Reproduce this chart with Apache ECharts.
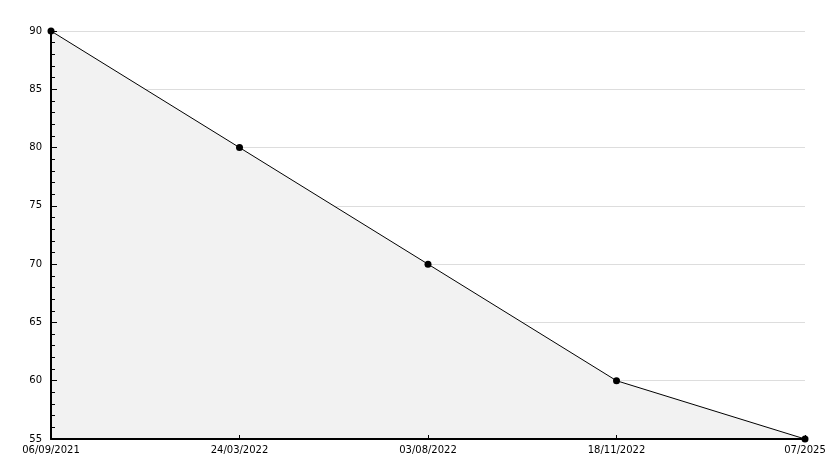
<!DOCTYPE html>
<html><head><meta charset="utf-8">
<script src="https://cdn.jsdelivr.net/npm/echarts@6/dist/echarts.min.js"></script>
<style>html,body{margin:0;padding:0;background:#fff}#c{width:834px;height:468px}</style>
</head><body><div id="c"></div>
<script>
const categories = ['06/09/2021', '24/03/2022', '03/08/2022', '18/11/2022', '07/2025'];
const values = [90, 80, 70, 60, 55];
const yMin = 55, yMax = 90, yStep = 5;

const chart = echarts.init(document.getElementById('c'), null, {renderer: 'canvas'});
chart.setOption({
  animation: false,
  backgroundColor: '#ffffff',
  grid: {left: 51, right: 29, top: 31, bottom: 29, containLabel: false},
  xAxis: [{
    type: 'category', data: categories, boundaryGap: false, z: 5,
    axisLine: {lineStyle: {color: '#000', width: 2}},
    axisTick: {inside: true, length: 4, lineStyle: {color: '#000'}, alignWithLabel: true},
    axisLabel: {color: '#000', fontFamily: 'DejaVu Sans', fontSize: 10, margin: 6, interval: 0},
    splitLine: {show: false}
  }],
  yAxis: [{
    type: 'value', min: yMin, max: yMax, interval: yStep, z: 0,
    axisLine: {show: false}, axisTick: {show: false}, axisLabel: {show: false},
    splitLine: {show: true, lineStyle: {color: '#dddddd', width: 1}}
  }, {
    type: 'value', min: yMin, max: yMax, interval: yStep, z: 5, position: 'left',
    axisLine: {show: true, lineStyle: {color: '#000', width: 2}},
    axisTick: {show: true, inside: true, length: 6, lineStyle: {color: '#000', width: 1}},
    minorTick: {show: true, splitNumber: 5, length: 4, lineStyle: {color: '#000', width: 1}},
    axisLabel: {color: '#000', fontFamily: 'DejaVu Sans', fontSize: 10, margin: 9},
    splitLine: {show: false}
  }],
  series: [{
    type: 'line', data: values, yAxisIndex: 0,
    symbol: 'circle', symbolSize: 7,
    itemStyle: {color: '#000'},
    lineStyle: {color: '#000', width: 1},
    areaStyle: {color: '#f2f2f2', opacity: 1, origin: 'start'}
  }]
});
</script></body></html>
